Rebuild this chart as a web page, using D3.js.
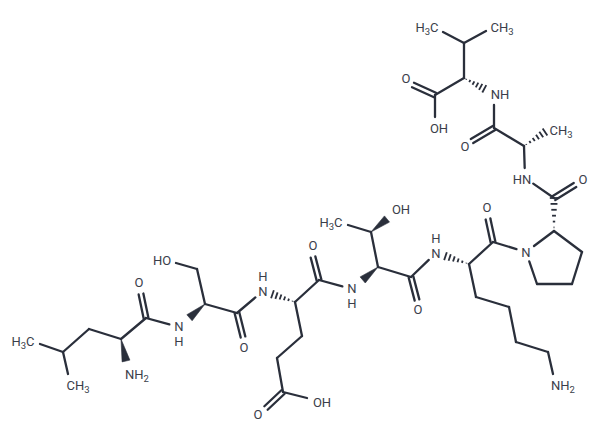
<!DOCTYPE html>
<html>
<head>
<meta charset="utf-8">
<script src="https://cdnjs.cloudflare.com/ajax/libs/d3/7.8.5/d3.min.js"></script>
<style>
	html, body { margin: 0; padding: 0; background: #fff; }
	svg { display: block; }
</style>
</head>
<body>
<div class="chart"></div>
<script>
	// atoms: id, x, y, gap kept clear around a label (only atoms that carry more than one bond)
	const atoms = [
		['me1', 40, 344, 0], ['cg1', 63, 352, 0], ['me2', 68, 374, 0], ['cb1', 89, 329, 0],
		['ca1', 121, 339, 0], ['nh2a', 126, 361, 0], ['c1', 146, 318, 0], ['o1', 141, 294, 0],
		['n2', 179, 327, 10], ['ca2', 205, 304, 0], ['cb2', 197, 269, 0], ['og2', 176, 263, 0],
		['c2', 237, 313, 0], ['o2', 243, 337, 0],
		['n3', 263, 291, 10], ['ca3', 295, 302, 0], ['c3', 319, 280, 0], ['o3', 313, 257, 0],
		['cb3', 302, 336, 0], ['cg3', 277, 358, 0], ['cd3', 283, 392, 0], ['oe3', 266, 408, 0], ['oh3', 307, 398, 0],
		['n4', 352, 289, 10], ['ca4', 378, 267, 0], ['cb4', 371, 232, 0], ['me4', 348, 225, 0], ['og4', 387, 219, 0],
		['c4', 411, 277, 0], ['o4', 417, 300, 0],
		['n5', 436, 253, 10], ['ca5', 469, 264, 0], ['c5', 493, 242, 0], ['o5', 488, 219, 0],
		['cb5', 476, 297, 0], ['cg5', 509, 307, 0], ['cd5', 516, 342, 0], ['ce5', 548, 352, 0], ['nz5', 553, 374, 0],
		['n6', 526, 252, 10], ['ca6', 554, 231, 0], ['cb6', 582, 252, 0], ['cg6', 572, 284, 0], ['cd6', 537, 284, 0],
		['c6', 554, 198, 0], ['o6', 575, 185, 0],
		['n7', 525, 178, 10], ['ca7', 524, 146, 0], ['me7', 545, 132, 0], ['c7', 494, 128, 0], ['o7', 472, 141, 0],
		['n8', 494, 94, 11], ['ca8', 464, 78, 0], ['cb8', 464, 43, 0], ['me8a', 443, 32, 0], ['me8b', 486, 31, 0],
		['c8', 435, 95, 0], ['o8', 413, 85, 0], ['oh8', 435, 117, 0]
	]

	// bonds: from, to, kind (s single, d double, w wedge, h hash), wedges narrow at "from"
	const bonds = [
		['me1', 'cg1', 's'], ['cg1', 'me2', 's'], ['cg1', 'cb1', 's'], ['cb1', 'ca1', 's'],
		['ca1', 'nh2a', 'w'], ['ca1', 'c1', 's'], ['c1', 'o1', 'd'], ['c1', 'n2', 's'],
		['ca2', 'n2', 'w'], ['ca2', 'cb2', 's'], ['cb2', 'og2', 's'], ['ca2', 'c2', 's'], ['c2', 'o2', 'd'],
		['c2', 'n3', 's'], ['ca3', 'n3', 'h'], ['ca3', 'c3', 's'], ['c3', 'o3', 'd'],
		['ca3', 'cb3', 's'], ['cb3', 'cg3', 's'], ['cg3', 'cd3', 's'], ['cd3', 'oe3', 'd'], ['cd3', 'oh3', 's'],
		['c3', 'n4', 's'], ['ca4', 'n4', 'w'], ['ca4', 'cb4', 's'], ['cb4', 'me4', 's'], ['cb4', 'og4', 'w'],
		['ca4', 'c4', 's'], ['c4', 'o4', 'd'],
		['c4', 'n5', 's'], ['ca5', 'n5', 'h'], ['ca5', 'c5', 's'], ['c5', 'o5', 'd'],
		['ca5', 'cb5', 's'], ['cb5', 'cg5', 's'], ['cg5', 'cd5', 's'], ['cd5', 'ce5', 's'], ['ce5', 'nz5', 's'],
		['c5', 'n6', 's'], ['n6', 'ca6', 's'], ['ca6', 'cb6', 's'], ['cb6', 'cg6', 's'], ['cg6', 'cd6', 's'], ['cd6', 'n6', 's'],
		['ca6', 'c6', 'h'], ['c6', 'o6', 'd'], ['c6', 'n7', 's'],
		['n7', 'ca7', 's'], ['ca7', 'me7', 'h'], ['ca7', 'c7', 's'], ['c7', 'o7', 'd'], ['c7', 'n8', 's'],
		['ca8', 'n8', 'h'], ['ca8', 'cb8', 's'], ['cb8', 'me8a', 's'], ['cb8', 'me8b', 's'],
		['ca8', 'c8', 's'], ['c8', 'o8', 'd'], ['c8', 'oh8', 's']
	]

	// labels: text, centre x, centre y (digits become subscripts)
	const labels = [
		['H3C', 23, 341], ['CH3', 78, 385], ['NH2', 137, 374], ['O', 139, 282], ['N', 179, 326], ['H', 179, 341],
		['HO', 162, 260], ['O', 244, 347], ['H', 263, 276], ['N', 263, 291], ['O', 313, 245],
		['O', 258, 414], ['OH', 322, 402], ['N', 352, 288], ['H', 352, 303],
		['H3C', 331, 222], ['OH', 401, 209], ['O', 418, 309], ['H', 436, 238], ['N', 436, 253],
		['O', 487, 207], ['N', 526, 252], ['NH2', 563, 385], ['O', 583, 179], ['HN', 522, 179],
		['O', 465, 146], ['CH3', 561, 130], ['NH', 500, 94], ['OH', 439, 128], ['O', 406, 78],
		['H3C', 427, 27], ['CH3', 502, 27]
	]

	const width = 600
	const height = 441
	const ink = '#2a2f3b'

	const xScale = d3.scaleLinear().domain([0, 600]).range([0, width])
	const yScale = d3.scaleLinear().domain([0, 441]).range([0, height])

	const atomById = new Map(atoms.map(a => [a[0], a]))

	// pull both ends of a bond back from any label, returns pixel ends
	function ends(b) {
		const p = atomById.get(b[0])
		const q = atomById.get(b[1])
		const x1 = xScale(p[1]), y1 = yScale(p[2]), x2 = xScale(q[1]), y2 = yScale(q[2])
		const len = Math.hypot(x2 - x1, y2 - y1)
		const ux = (x2 - x1) / len, uy = (y2 - y1) / len
		const extra = b[2] == 'w' && q[3] > 0 ? 4 : 0
		return {
			x1: x1 + ux * p[3], y1: y1 + uy * p[3],
			x2: x2 - ux * (q[3] + extra), y2: y2 - uy * (q[3] + extra),
			nx: -uy, ny: ux
		}
	}

	const svg = d3.select('.chart')
		.append('svg')
		.attr('width', width)
		.attr('height', height)

	const lineGroup = svg.append('g')
		.attr('stroke', ink)
		.attr('stroke-width', 2.3)
		.attr('stroke-linecap', 'round')

	lineGroup.selectAll('line.single')
		.data(bonds.filter(b => b[2] == 's').map(ends))
		.enter()
		.append('line')
		.attr('class', 'single')
		.attr('x1', d => d.x1)
		.attr('y1', d => d.y1)
		.attr('x2', d => d.x2)
		.attr('y2', d => d.y2)

	// double bonds, two lines either side of the axis
	const doubles = bonds.filter(b => b[2] == 'd').map(ends)
		.flatMap(e => [-2.4, 2.4].map(o => ({ e: e, o: o })))

	lineGroup.selectAll('line.double')
		.data(doubles)
		.enter()
		.append('line')
		.attr('class', 'double')
		.attr('x1', d => d.e.x1 + d.e.nx * d.o)
		.attr('y1', d => d.e.y1 + d.e.ny * d.o)
		.attr('x2', d => d.e.x2 + d.e.nx * d.o)
		.attr('y2', d => d.e.y2 + d.e.ny * d.o)

	svg.selectAll('polygon')
		.data(bonds.filter(b => b[2] == 'w').map(ends))
		.enter()
		.append('polygon')
		.attr('fill', ink)
		.attr('stroke', ink)
		.attr('stroke-width', 0.6)
		.attr('points', d => [
			[d.x1, d.y1],
			[d.x2 + d.nx * 4, d.y2 + d.ny * 4],
			[d.x2 - d.nx * 4, d.y2 - d.ny * 4]
		].join(' '))

	// hashed bonds, short strokes widening towards the far end
	const hashes = bonds.filter(b => b[2] == 'h').map(ends)
		.flatMap(e => d3.range(0, 6).map(i => ({ e: e, t: (i + 0.6) / 5.6 })))

	svg.selectAll('line.hash')
		.data(hashes)
		.enter()
		.append('line')
		.attr('class', 'hash')
		.attr('stroke', ink)
		.attr('stroke-width', 1.8)
		.attr('x1', d => d.e.x1 + (d.e.x2 - d.e.x1) * d.t + d.e.nx * 4.2 * d.t)
		.attr('y1', d => d.e.y1 + (d.e.y2 - d.e.y1) * d.t + d.e.ny * 4.2 * d.t)
		.attr('x2', d => d.e.x1 + (d.e.x2 - d.e.x1) * d.t - d.e.nx * 4.2 * d.t)
		.attr('y2', d => d.e.y1 + (d.e.y2 - d.e.y1) * d.t - d.e.ny * 4.2 * d.t)

	const text = svg.selectAll('text')
		.data(labels)
		.enter()
		.append('text')
		.attr('x', d => xScale(d[1]))
		.attr('y', d => yScale(d[2]) + 4.6)
		.attr('text-anchor', 'middle')
		.attr('font-family', 'Roboto, sans-serif')
		.attr('font-size', 13)
		.attr('fill', '#3a3e4a')

	text.each(function(d) {
		const el = d3.select(this)
		let sub = false
		d[0].split('').forEach(ch => {
			const isDigit = /[0-9]/.test(ch)
			const span = el.append('tspan').text(ch)
			if (isDigit) span.attr('font-size', 9.5).attr('dy', 3)
			else if (sub) span.attr('dy', -3)
			sub = isDigit
		})
	})
</script>
</body>
</html>
